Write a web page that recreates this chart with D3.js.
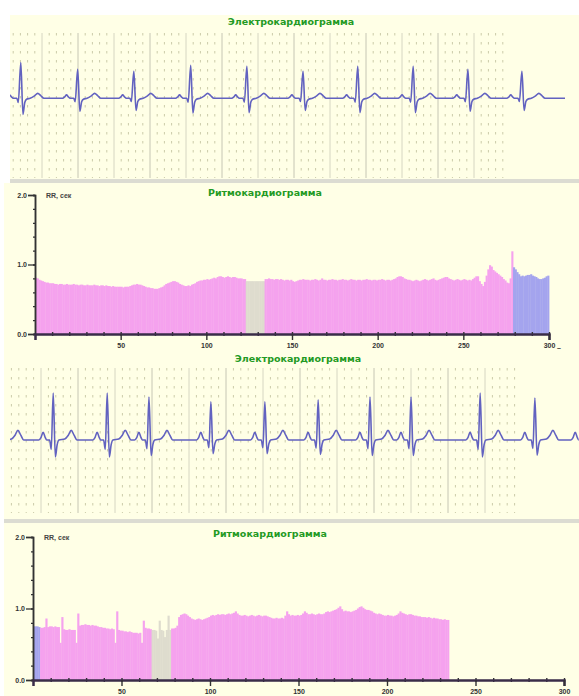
<!DOCTYPE html>
<html>
<head>
<meta charset="utf-8">
<script src="https://cdn.jsdelivr.net/npm/d3@7/dist/d3.min.js"></script>
<style>
body { margin: 0; background: #fff; }
svg { display: block; font-family: "Liberation Sans", Arial, sans-serif; }
</style>
</head>
<body>
<div id="chart"></div>
<script>
// ---- data ----

// ECG 1: R-peak times (s) and R amplitudes (mV-ish)
var ecg1Beats = [0.15, 0.94, 1.72, 2.51, 3.29, 4.07, 4.83, 5.60, 6.36, 7.11];
var ecg1Amp   = [0.74, 0.60, 0.56, 0.68, 0.66, 0.56, 0.66, 0.66, 0.60, 0.56];
// one beat: [offset from R (s), value, scaled by R amplitude?]
var ecg1Wave = [
    [-0.21, 0, 0], [-0.18, 0.03, 0], [-0.155, 0.07, 0], [-0.13, 0.03, 0], [-0.105, 0, 0],
    [-0.055, 0, 0], [-0.035, -0.12, 1], [0, 1, 1], [0.03, -0.45, 1], [0.055, -0.12, 1], [0.08, -0.02, 0],
    [0.13, 0, 0], [0.19, 0.05, 0], [0.235, 0.1, 0], [0.28, 0.05, 0], [0.32, 0, 0]
];

// ECG 2
var ecg2Beats = [-0.14, 0.60, 1.35, 1.93, 2.79, 3.54, 4.28, 5.00, 5.57, 6.53, 7.29, 7.99];
var ecg2Amp   = [0.90, 0.97, 0.97, 0.89, 0.79, 0.79, 0.83, 0.89, 0.89, 0.97, 0.87, 0.90];
var ecg2Wave = [
    [-0.2, 0, 0], [-0.17, 0.05, 0], [-0.14, 0.16, 0], [-0.11, 0.05, 0], [-0.09, 0, 0],
    [-0.05, 0, 0], [-0.027, -0.2, 1], [0, 1, 1], [0.03, -0.36, 1], [0.055, -0.1, 1], [0.08, 0, 0],
    [0.16, 0.02, 0], [0.21, 0.1, 0], [0.25, 0.2, 0], [0.29, 0.1, 0], [0.33, 0, 0]
];

// RR intervals (s), one per beat number
var rr1Values = [
    0.81,0.80,0.78,0.77,0.76,0.75,0.74,0.74,0.73,0.73,0.73,0.72,0.72,0.71,0.72,0.72,0.71,0.71,0.72,0.71,
    0.71,0.71,0.72,0.71,0.71,0.70,0.71,0.71,0.70,0.70,0.71,0.70,0.70,0.70,0.71,0.70,0.70,0.69,0.70,0.70,
    0.69,0.70,0.69,0.69,0.68,0.69,0.68,0.68,0.68,0.68,0.68,0.67,0.68,0.68,0.68,0.69,0.70,0.71,0.71,0.72,
    0.71,0.71,0.70,0.69,0.68,0.67,0.67,0.66,0.66,0.65,0.65,0.65,0.66,0.67,0.68,0.70,0.72,0.73,0.74,0.75,
    0.76,0.76,0.75,0.74,0.72,0.71,0.70,0.69,0.69,0.70,0.69,0.71,0.72,0.73,0.75,0.76,0.77,0.77,0.78,0.78,
    0.79,0.78,0.79,0.80,0.81,0.80,0.82,0.83,0.83,0.82,0.81,0.82,0.83,0.82,0.81,0.82,0.82,0.81,0.80,0.80,
    0.80,0.79,0.79,0.76,0.76,0.76,0.76,0.76,0.76,0.76,0.76,0.76,0.76,0.76,0.79,0.79,0.80,0.79,0.79,0.78,
    0.79,0.79,0.78,0.79,0.78,0.77,0.78,0.78,0.77,0.78,0.76,0.75,0.76,0.77,0.78,0.78,0.79,0.78,0.78,0.78,
    0.77,0.78,0.78,0.79,0.78,0.77,0.78,0.80,0.78,0.78,0.77,0.78,0.78,0.79,0.78,0.78,0.77,0.78,0.78,0.79,
    0.78,0.78,0.77,0.78,0.79,0.78,0.78,0.77,0.78,0.78,0.77,0.78,0.78,0.79,0.78,0.78,0.77,0.78,0.78,0.77,
    0.78,0.78,0.79,0.78,0.77,0.78,0.78,0.77,0.78,0.79,0.80,0.82,0.83,0.83,0.82,0.80,0.79,0.78,0.78,0.77,
    0.76,0.77,0.78,0.77,0.76,0.77,0.78,0.79,0.78,0.77,0.78,0.79,0.80,0.78,0.77,0.78,0.79,0.80,0.81,0.82,
    0.82,0.80,0.79,0.78,0.77,0.78,0.79,0.78,0.77,0.78,0.79,0.78,0.77,0.78,0.77,0.79,0.81,0.83,0.83,0.76,
    0.72,0.69,0.75,0.84,0.93,0.99,0.97,0.92,0.90,0.88,0.86,0.84,0.82,0.79,0.77,0.74,0.73,0.80,1.19,
    0.96,0.93,0.89,0.86,0.83,0.84,0.83,0.84,0.85,0.85,0.86,0.84,0.83,0.82,0.80,0.79,0.79,0.80,0.81,0.83,0.84
];
var rr1Artifact = [123, 133];   // grey block
var rr1Marked   = [279, 299];   // blue block

var rr2Values = [
    0.75,0.75,0.75,0.74,0.73,0.73,0.74,0.86,0.74,0.75,0.75,0.74,0.75,0.74,0.74,0.52,0.88,0.71,0.70,0.70,
    0.71,0.70,0.70,0.70,0.52,0.93,0.76,0.77,0.77,0.78,0.77,0.77,0.76,0.77,0.76,0.76,0.75,0.74,0.74,0.73,
    0.73,0.72,0.72,0.71,0.72,0.71,0.52,0.96,0.70,0.69,0.69,0.68,0.68,0.67,0.68,0.67,0.66,0.66,0.66,0.65,
    0.66,0.52,0.83,0.73,0.72,0.72,0.71,0.70,0.70,0.69,0.58,0.83,0.70,0.69,0.60,0.70,0.90,0.70,0.72,0.72,
    0.73,0.76,0.88,0.91,0.92,0.93,0.92,0.90,0.88,0.86,0.85,0.84,0.85,0.86,0.85,0.84,0.85,0.86,0.87,0.88,
    0.90,0.91,0.90,0.91,0.92,0.91,0.92,0.92,0.91,0.92,0.93,0.92,0.93,0.94,0.96,0.93,0.91,0.90,0.90,0.91,
    0.90,0.89,0.90,0.91,0.90,0.89,0.90,0.91,0.90,0.89,0.90,0.90,0.89,0.88,0.87,0.86,0.86,0.87,0.86,0.86,
    0.87,0.86,0.90,0.96,0.92,0.90,0.91,0.90,0.90,0.91,0.90,0.91,0.93,0.96,0.94,0.92,0.92,0.93,0.92,0.91,
    0.92,0.93,0.92,0.92,0.93,0.95,0.96,0.95,0.96,0.97,0.98,0.99,1.01,1.03,0.99,0.96,0.97,0.96,0.96,0.95,
    0.96,0.97,0.98,1.00,1.02,1.03,1.01,0.99,0.98,0.98,0.97,0.96,0.94,0.93,0.92,0.93,0.92,0.91,0.90,0.90,
    0.91,0.90,0.90,0.89,0.90,0.91,0.93,0.96,0.94,0.93,0.92,0.91,0.92,0.92,0.91,0.90,0.90,0.89,0.89,0.88,
    0.88,0.88,0.87,0.88,0.87,0.86,0.87,0.86,0.86,0.85,0.85,0.84,0.85,0.84,0.84
];
var rr2Artifact = [67, 77];
var rr2Marked   = [0, 3];

var xTickValues = [50, 100, 150, 200, 250, 300];
var yTickValues = [0, 1, 2];

var ecgTitle = "Электрокардиограмма";
var rrTitle  = "Ритмокардиограмма";
var rrLabel  = "RR, сек";

// ---- styles ----
var BG = "#ffffe6";
var PINK = "#f5a2ee";
var GREY = "#dedcce";
var BLUE = "#a4a4ee";
var GREEN = "#239a23";
var ECG_LINE = "#6262c0";
var TITLE_FONT = "DejaVu Sans, Verdana, sans-serif";

var W = 579, H = 696;

var svg = d3.select("#chart").append("svg")
    .attr("width", W)
    .attr("height", H);

// panel backgrounds
svg.append("rect").attr("x", 10).attr("y", 15).attr("width", W - 10).attr("height", 165).attr("fill", BG);
svg.append("rect").attr("x", 10).attr("y", 179).attr("width", W - 10).attr("height", 4).attr("fill", "#dcdcd2");
svg.append("rect").attr("x", 4).attr("y", 183).attr("width", W - 4).attr("height", 167).attr("fill", BG);
svg.append("rect").attr("x", 4).attr("y", 350).attr("width", W - 4).attr("height", 170).attr("fill", BG);
svg.append("rect").attr("x", 4).attr("y", 519).attr("width", W - 4).attr("height", 4).attr("fill", "#dcdcd2");
svg.append("rect").attr("x", 4).attr("y", 523).attr("width", W - 4).attr("height", H - 523).attr("fill", BG);

function drawGrid(g, x0, step, nCols, y0, y1) {
    var gx = d3.scaleLinear().domain([0, 1]).range([x0, x0 + step]);
    var cols = d3.range(1, nCols + 1);
    g.selectAll("line.minor").data(cols.filter(function(k) { return k % 5 !== 0; }))
        .join("line")
        .attr("class", "minor")
        .attr("x1", function(k) { return gx(k); })
        .attr("x2", function(k) { return gx(k); })
        .attr("y1", y0).attr("y2", y1)
        .attr("stroke", "#cbcba8")
        .attr("stroke-width", 1)
        .attr("stroke-dasharray", "2.5,6.5");
    g.selectAll("line.major").data(cols.filter(function(k) { return k % 5 === 0; }))
        .join("line")
        .attr("class", "major")
        .attr("x1", function(k) { return gx(k); })
        .attr("x2", function(k) { return gx(k); })
        .attr("y1", y0).attr("y2", y1)
        .attr("stroke", function(k) { return k % 10 === 0 ? "#c6c6b4" : "#d6d6c2"; })
        .attr("stroke-width", 1);
}

function ecgPoints(beats, amps, wave, t0, t1) {
    var pts = [[t0, 0]];
    beats.forEach(function(b, i) {
        wave.forEach(function(w) {
            pts.push([b + w[0], w[2] ? w[1] * amps[i] : w[1]]);
        });
    });
    pts.push([t1, 0]);
    pts.sort(function(a, b) { return a[0] - b[0]; });
    return pts;
}

function drawEcg(id, opts) {
    var g = svg.append("g");
    drawGrid(g, opts.gridX0, opts.gridStep, opts.gridCols, opts.top, opts.bottom);

    var x = d3.scaleLinear().domain([0, 8]).range([10, 10 + 8 * 72]);
    var y = d3.scaleLinear().domain(opts.yDomain).range([opts.bottom, opts.top]);

    g.append("clipPath").attr("id", id)
        .append("rect")
        .attr("x", 10).attr("y", opts.top - 20)
        .attr("width", x(opts.tEnd) - 10).attr("height", opts.bottom - opts.top + 30);

    var line = d3.line()
        .x(function(d) { return x(d[0]); })
        .y(function(d) { return y(d[1]); })
        .curve(d3.curveMonotoneX);

    g.append("path")
        .datum(ecgPoints(opts.beats, opts.amps, opts.wave, -0.5, opts.tEnd))
        .attr("clip-path", "url(#" + id + ")")
        .attr("fill", "none")
        .attr("stroke", ECG_LINE)
        .attr("stroke-width", 1.6)
        .attr("stroke-linejoin", "round")
        .attr("d", line);

    svg.append("text")
        .attr("x", opts.titleX).attr("y", opts.titleY)
        .attr("text-anchor", "middle")
        .attr("font-family", TITLE_FONT)
        .attr("font-size", "9.5px").attr("font-weight", "bold")
        .attr("fill", GREEN)
        .text(ecgTitle);
}

function inRange(i, r) { return i >= r[0] && i <= r[1]; }

function drawRR(opts) {
    var g = svg.append("g");
    var x = d3.scaleLinear().domain([0, 300]).range(opts.xRange);
    var y = d3.scaleLinear().domain([0, 2]).range([opts.bottom, opts.top]);

    g.selectAll("rect.bar").data(opts.values)
        .join("rect")
        .attr("class", "bar")
        .attr("x", function(d, i) { return x(i); })
        .attr("width", x(1) - x(0) + 0.4)
        .attr("y", function(d) { return y(d); })
        .attr("height", function(d) { return y(0) - y(d); })
        .attr("fill", function(d, i) {
            if (inRange(i, opts.artifact)) return GREY;
            if (inRange(i, opts.marked)) return BLUE;
            return PINK;
        });

    // y axis
    var yMinor = g.append("g")
        .attr("transform", "translate(" + opts.xRange[0] + ",0)")
        .call(d3.axisLeft(y).tickValues(d3.range(0, 2.01, 0.2)).tickSize(2).tickFormat(""));
    var yAxis = g.append("g")
        .attr("transform", "translate(" + opts.xRange[0] + ",0)")
        .call(d3.axisLeft(y).tickValues(yTickValues).tickSize(7).tickPadding(1).tickFormat(d3.format(".1f")));
    [yMinor, yAxis].forEach(function(a) {
        a.select(".domain").attr("stroke", "#333").attr("stroke-width", 1.5);
        a.selectAll(".tick line").attr("stroke", "#333").attr("stroke-width", 1.3);
        a.selectAll(".tick text").attr("font-size", "7px").attr("font-weight", "bold")
            .attr("fill", "#333").attr("font-family", "Liberation Sans, Arial, sans-serif");
    });

    // x axis
    var xMinor = g.append("g")
        .attr("transform", "translate(0," + (opts.bottom - 2) + ")")
        .call(d3.axisBottom(x).tickValues(d3.range(10, 301, 10)).tickSize(4).tickFormat(""));
    var xAxis = g.append("g")
        .attr("transform", "translate(0," + opts.bottom + ")")
        .call(d3.axisBottom(x).tickValues(xTickValues).tickSize(6).tickPadding(3));
    xMinor.select(".domain").remove();
    xAxis.select(".domain").attr("stroke", "#3a2d48").attr("stroke-width", 2.5);
    [xMinor, xAxis].forEach(function(a) {
        a.selectAll(".tick line").attr("stroke", "#333").attr("stroke-width", 1.4);
        a.selectAll(".tick text").attr("font-size", "7px").attr("font-weight", "bold")
            .attr("fill", "#333").attr("font-family", "Liberation Sans, Arial, sans-serif");
    });

    svg.append("text")
        .attr("x", opts.xRange[0] + 11).attr("y", y(2) + 3)
        .attr("font-size", "7px").attr("font-weight", "bold")
        .attr("fill", "#444")
        .text(rrLabel);

    svg.append("text")
        .attr("x", opts.titleX).attr("y", opts.titleY)
        .attr("text-anchor", "middle")
        .attr("font-family", TITLE_FONT)
        .attr("font-size", "9.5px").attr("font-weight", "bold")
        .attr("fill", GREEN)
        .text(rrTitle);

    if (opts.unitMark) {
        svg.append("text")
            .attr("x", x(300) + 8).attr("y", opts.bottom + 16)
            .attr("font-size", "7px").attr("font-weight", "bold")
            .attr("fill", "#333")
            .text("–");
    }
}

drawEcg("clipA", {
    top: 33, bottom: 178, yDomain: [-1.65, 1.35],
    gridX0: 6, gridStep: 7.2, gridCols: 69,
    beats: ecg1Beats, amps: ecg1Amp, wave: ecg1Wave, tEnd: 7.71,
    titleX: 291, titleY: 25
});

drawRR({
    values: rr1Values, artifact: rr1Artifact, marked: rr1Marked,
    xRange: [35, 549], top: 195, bottom: 334,
    titleX: 265, titleY: 196, unitMark: true
});

drawEcg("clipC", {
    top: 368, bottom: 513, yDomain: [-1.51, 1.49],
    gridX0: 4, gridStep: 7.4, gridCols: 69,
    beats: ecg2Beats, amps: ecg2Amp, wave: ecg2Wave, tEnd: 7.9,
    titleX: 298, titleY: 362
});

drawRR({
    values: rr2Values, artifact: rr2Artifact, marked: rr2Marked,
    xRange: [33, 564], top: 537, bottom: 680,
    titleX: 270, titleY: 537, unitMark: false
});
</script>
</body>
</html>
